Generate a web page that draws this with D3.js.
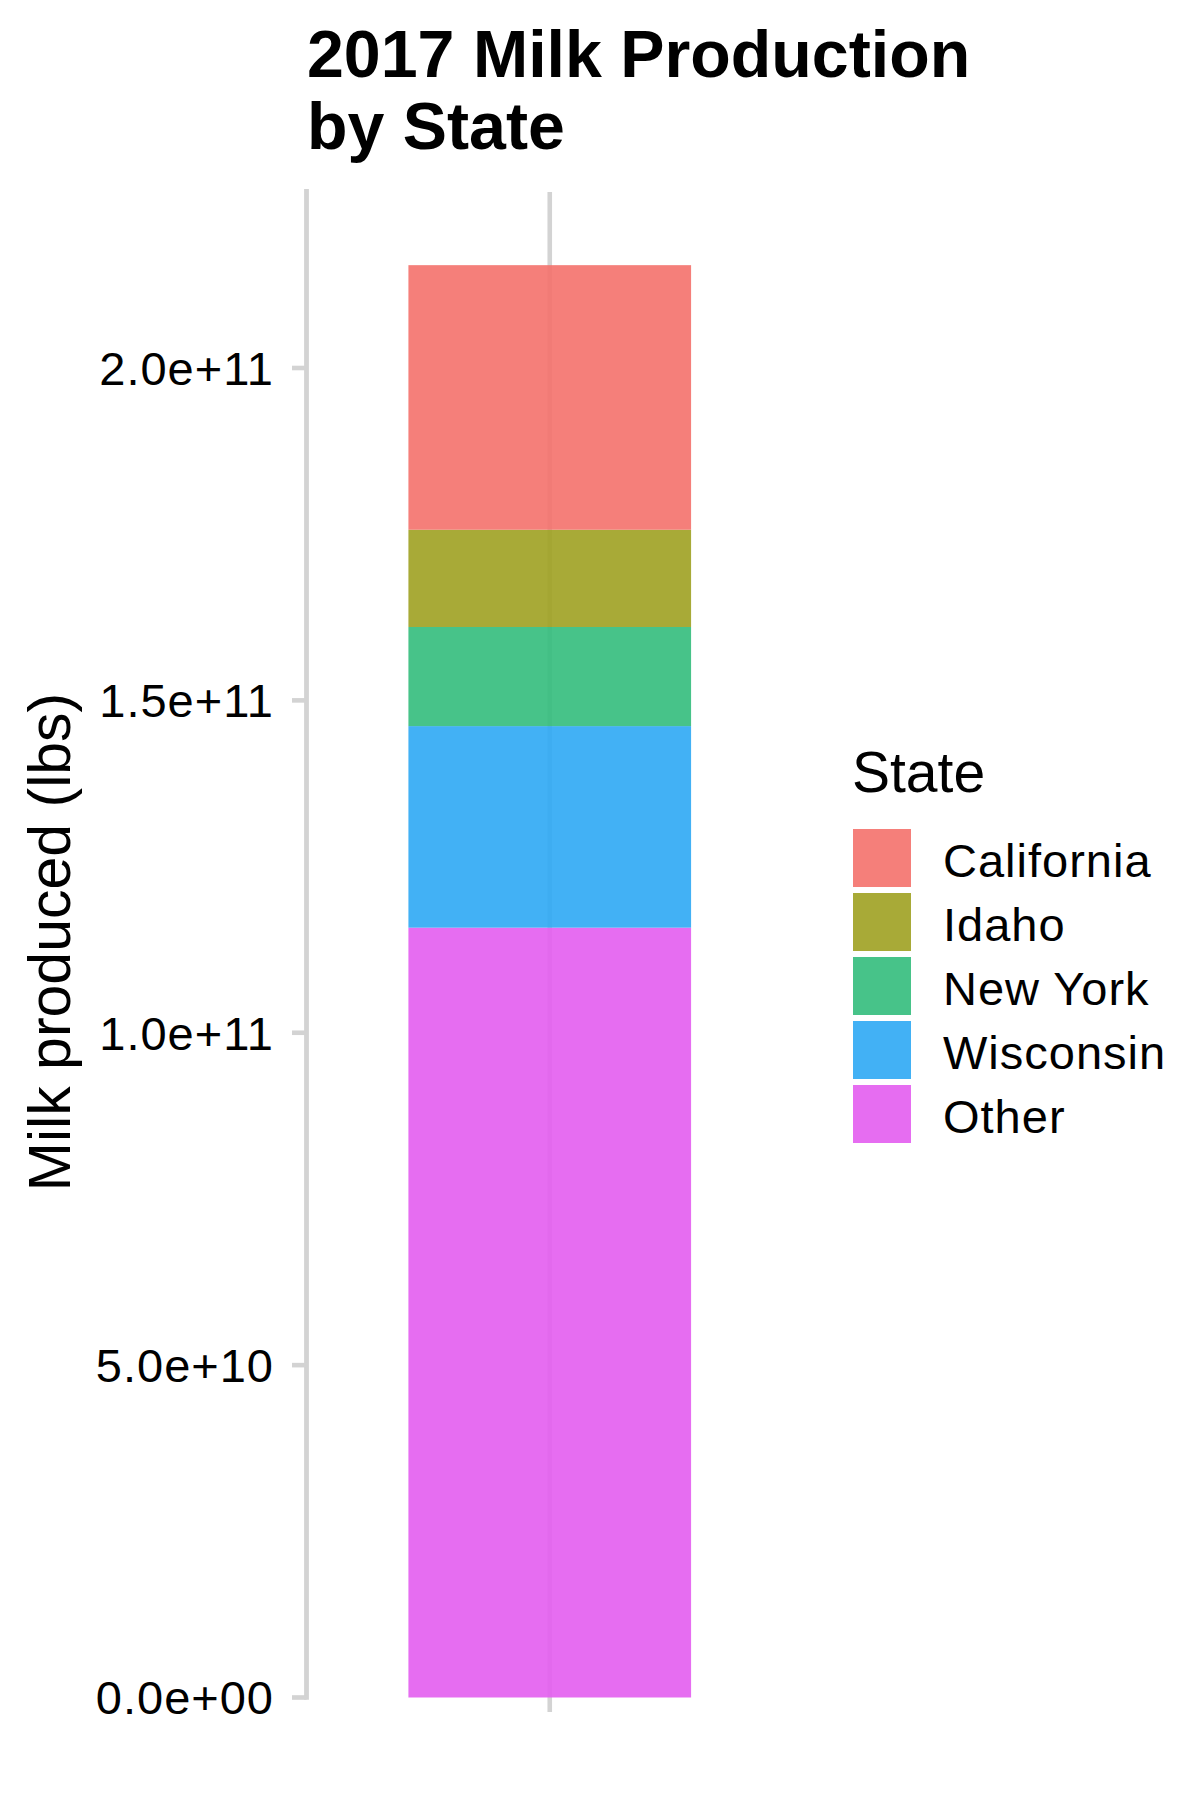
<!DOCTYPE html>
<html>
<head>
<meta charset="utf-8">
<script src="https://cdn.jsdelivr.net/npm/d3@7"></script>
<style>
  html, body { margin: 0; padding: 0; background: #ffffff; }
  svg { display: block; }
  text { font-family: "Liberation Sans", Arial, Helvetica, sans-serif; fill: #000; }
</style>
</head>
<body>
<div id="chart"></div>
<script>
// ---- data ----
const year = "2017";
const states = ["California", "Idaho", "New York", "Wisconsin", "Other"];
const milkLbs = [39.8e9, 14.63e9, 14.91e9, 30.32e9, 115.81e9];
const stateColors = ["#F4716B", "#9EA121", "#33BD7C", "#2EA8F4", "#E35DF0"];
const yTicks = [0, 5e10, 1e11, 1.5e11, 2e11];
const yTickLabels = ["0.0e+00", "5.0e+10", "1.0e+11", "1.5e+11", "2.0e+11"];
const titleLines = ["2017 Milk Production", "by State"];
const yTitle = "Milk produced (lbs)";
const legendTitle = "State";

// ---- layout ----
const W = 1200, H = 1800;
const panel = { left: 306.5, right: 793, top: 190, bottom: 1712 };
const gridCol = "#d3d3d3";

const svg = d3.select("#chart").append("svg")
  .attr("width", W).attr("height", H);

const y = d3.scaleLinear().domain([0, 2e11]).range([1697.5, 368]);
const x = d3.scaleBand().domain([year]).range([panel.left, panel.right]).padding(0.265);
const color = d3.scaleOrdinal().domain(states).range(stateColors);

// vertical grid line at the category
svg.append("line")
  .attr("x1", x(year) + x.bandwidth() / 2).attr("x2", x(year) + x.bandwidth() / 2)
  .attr("y1", panel.top + 2).attr("y2", panel.bottom)
  .attr("stroke", gridCol).attr("stroke-width", 4.6);

// stacked bars (order: Other at bottom, California on top)
let cum = 0;
const stackData = [];
for (let i = states.length - 1; i >= 0; i--) {
  stackData.push({ state: states[i], y0: cum, y1: cum + milkLbs[i] });
  cum += milkLbs[i];
}
svg.append("g").selectAll("rect").data(stackData).join("rect")
  .attr("x", x(year))
  .attr("width", x.bandwidth())
  .attr("y", d => y(d.y1))
  .attr("height", d => y(d.y0) - y(d.y1))
  .attr("fill", d => color(d.state))
  .attr("fill-opacity", 0.9);

// y axis line (from panel top to zero) and ticks
const axisG = svg.append("g");
axisG.append("line")
  .attr("x1", panel.left).attr("x2", panel.left)
  .attr("y1", panel.top - 1).attr("y2", y(0) + 2.3)
  .attr("stroke", gridCol).attr("stroke-width", 4.8);
axisG.selectAll("line.tick").data(yTicks).join("line")
  .attr("class", "tick")
  .attr("x1", 292).attr("x2", panel.left)
  .attr("y1", d => y(d)).attr("y2", d => y(d))
  .attr("stroke", gridCol).attr("stroke-width", 4.6);
axisG.selectAll("text.tl").data(yTicks).join("text")
  .attr("class", "tl")
  .attr("x", 274)
  .attr("y", d => y(d))
  .attr("dy", "0.36em")
  .attr("text-anchor", "end")
  .attr("font-size", 47)
  .attr("letter-spacing", 1)
  .text((d, i) => yTickLabels[i]);

// y axis title
svg.append("text")
  .attr("transform", "translate(70,942) rotate(-90)")
  .attr("text-anchor", "middle")
  .attr("font-size", 59)
  .text(yTitle);

// title
svg.append("g").selectAll("text").data(titleLines).join("text")
  .attr("x", 307)
  .attr("y", (d, i) => 77 + i * 72)
  .attr("font-size", 66.3)
  .attr("font-weight", "bold")
  .text(d => d);

// legend
const lg = svg.append("g");
lg.append("text").attr("x", 852).attr("y", 792).attr("font-size", 57).text(legendTitle);
const items = lg.selectAll("g.item").data(states).join("g")
  .attr("class", "item")
  .attr("transform", (d, i) => `translate(853,${829 + i * 64})`);
items.append("rect")
  .attr("width", 58).attr("height", 58)
  .attr("fill", d => color(d)).attr("fill-opacity", 0.9);
items.append("text")
  .attr("x", 90).attr("y", 48)
  .attr("font-size", 47)
  .attr("letter-spacing", 1)
  .text(d => d);
</script>
</body>
</html>
